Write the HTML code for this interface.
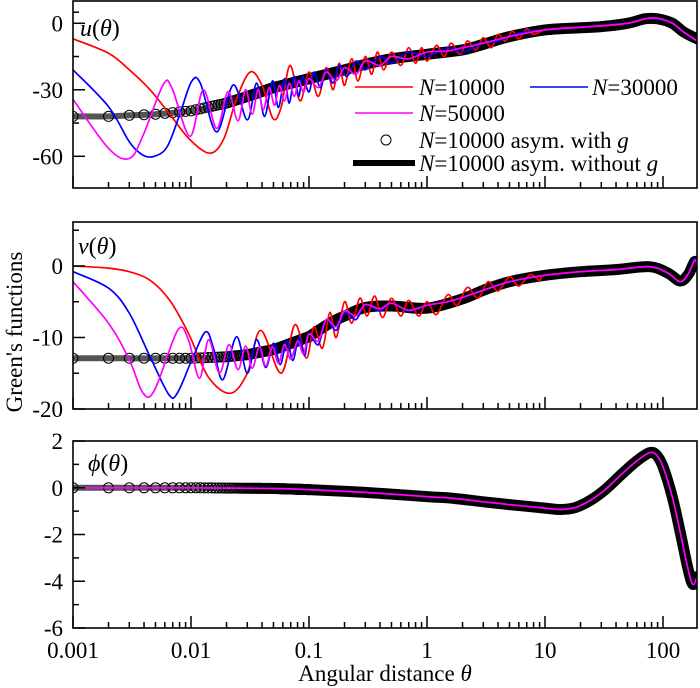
<!DOCTYPE html>
<html><head><meta charset="utf-8"><style>
html,body{margin:0;padding:0;background:#fff;}
svg{display:block;}
svg text{font-family:"Liberation Serif","Times New Roman",serif;}
</style></head><body>
<svg id="chart" width="700" height="688" viewBox="0 0 700 688" xmlns="http://www.w3.org/2000/svg" font-family="Liberation Serif, serif"></svg>
<script>
// ---------- data ----------
const xTickLabels = ["0.001","0.01","0.1","1","10","100"];
const xTickValues = [0.001,0.01,0.1,1,10,100];

// Panel u
const uAsymTheta = [0.001,0.002,0.003,0.005,0.01,0.02,0.03,0.05,0.1,0.2,0.3,0.5,1,2,3,5,10,20,30,50,70,90,120,150,194];
const uAsymVal   = [-42,-42,-41.5,-41,-39.5,-36,-33,-29,-25,-21,-18.5,-16,-14,-12,-9.5,-6,-3,-2,-1.5,0,2,2,0,-4,-7];
const uN10Theta = [0.001,0.002,0.003,0.0045,0.0066,0.0098,0.0145,0.019,0.024,0.0316,0.04,0.0495,0.058,0.069,0.084,0.1,0.12,0.14,0.16,0.18,0.2,0.23,0.26,0.3,0.34,0.38,0.43,0.5,0.6,0.7,0.8,0.9,1,1.2,1.4,1.6,1.9,2.2,2.6,3,3.5,4,4.6,5.3,6,7,8,10,15,20,30,50,70,90,120,150,194];
const uN10Val   = [-7,-13.5,-21,-30,-41,-52.5,-58.6,-52,-35,-22,-28,-43,-38,-19,-35,-22,-33,-20,-30,-18,-28,-16,-26,-15,-23,-13,-21,-13,-19,-11,-18,-11,-17,-10,-15,-9,-14,-8,-12,-6.5,-11,-5,-8,-3.5,-7,-2.5,-5,-3,-2,-1.7,-1.3,0,2,2,0,-4,-8];
const uN30Theta = [0.001,0.002,0.003,0.0039,0.0049,0.0063,0.0081,0.0101,0.012,0.0165,0.0228,0.03,0.036,0.042,0.049,0.055,0.062,0.068,0.075,0.082,0.088,0.1,0.11,0.125,0.14,0.16,0.18,0.21,0.25,0.3,0.4,0.5,0.7,1,1.5,2,3,4,6,10,20,50,70,90,120,150,194];
const uN30Val   = [-21,-37.6,-53.4,-59.4,-60,-55.6,-40.5,-26.3,-27,-49,-27.8,-43.6,-27,-42,-26,-38,-25,-36,-24,-33,-24,-31,-22,-29,-21,-27,-19,-24,-17,-21,-15,-18,-13,-15,-11,-13,-9,-8,-4.5,-3,-1.8,0,2,2,0,-4,-8];
const uN50Theta = [0.001,0.002,0.003,0.0039,0.0058,0.0069,0.0098,0.0127,0.0165,0.0206,0.025,0.029,0.033,0.037,0.041,0.046,0.051,0.056,0.062,0.068,0.075,0.082,0.09,0.1,0.12,0.14,0.17,0.2,0.25,0.3,0.4,0.5,0.7,1,1.5,2,3,5,10,20,50,70,90,120,150,194];
const uN50Val   = [-34.3,-56.4,-61,-51,-27.8,-29.3,-51,-30,-47.4,-30.8,-44,-30,-41,-30,-39,-29,-37,-28,-35,-27,-33,-26,-31,-25,-29,-22,-26,-20,-23,-17,-19,-15,-16,-13,-12.5,-11,-9,-6,-3,-1.8,0,2,2.3,0,-4,-8];

// Panel v
const vAsymTheta = [0.001,0.01,0.02,0.03,0.05,0.1,0.15,0.2,0.3,0.5,1,2,3,5,10,20,40,77,110,140,165,185,194];
const vAsymVal   = [-12.9,-12.9,-12.7,-12.4,-11.7,-9.9,-8,-7,-5.8,-5.6,-5.9,-4.6,-3.4,-2.2,-1.3,-0.8,-0.5,-0.1,-1,-2.1,-1.1,0.6,0.2];
const vN10Theta = [0.001,0.002,0.003,0.0045,0.0066,0.0095,0.014,0.0215,0.03,0.039,0.058,0.076,0.095,0.11,0.13,0.15,0.17,0.2,0.23,0.27,0.31,0.36,0.42,0.5,0.6,0.7,0.85,1,1.2,1.5,1.8,2.2,2.7,3.3,4,5,6,7.5,9,10,20,40,77,110,140,165,185,194];
const vN10Val   = [0,-0.3,-0.8,-2,-4.8,-9.4,-15.5,-17.8,-15,-9,-15,-8.2,-12.9,-8.5,-11.5,-6.5,-10,-5,-8,-4.5,-7,-4.2,-7.2,-4.5,-7,-4.8,-7,-5,-6.8,-4,-5.5,-3,-4.5,-2.2,-3.5,-1.5,-2.8,-1.2,-2,-1.3,-0.8,-0.5,-0.1,-1,-2.2,-1,0.9,0.2];
const vN30Theta = [0.001,0.002,0.003,0.0045,0.0065,0.0077,0.0102,0.0133,0.0155,0.0186,0.0243,0.03,0.036,0.043,0.05,0.057,0.065,0.073,0.082,0.092,0.1,0.12,0.14,0.17,0.2,0.25,0.3,0.4,0.5,0.7,1,1.5,2,3,5,10,20,40,77,110,140,165,185,194];
const vN30Val   = [-0.8,-3.1,-6.6,-12.7,-18,-17.7,-13.1,-9.2,-11.5,-15.9,-9.9,-15,-10.3,-14.2,-10.8,-13.8,-10.5,-13.2,-10,-12.5,-9.5,-11,-7.5,-9,-6.5,-7.5,-5.4,-6.3,-5.2,-6.3,-5.5,-5,-4.4,-3.4,-2.2,-1.3,-0.8,-0.5,-0.1,-1,-2.2,-1,1,0.2];
const vN50Theta = [0.001,0.002,0.003,0.0039,0.0049,0.0077,0.0095,0.0118,0.0141,0.0174,0.021,0.025,0.029,0.033,0.038,0.043,0.049,0.055,0.062,0.07,0.08,0.09,0.1,0.12,0.14,0.17,0.2,0.25,0.3,0.4,0.5,0.7,1,1.5,2,3,5,10,20,40,77,110,140,165,185,194];
const vN50Val   = [-2.2,-8,-13.1,-17.7,-17.4,-9,-10.3,-15.7,-10.3,-15,-11,-14.5,-11.2,-14.3,-11.3,-14,-11.3,-13.6,-11,-13,-10.5,-12.3,-9.5,-10.5,-7.5,-8.5,-6.3,-7,-5.4,-6,-5.2,-6.2,-5.5,-5,-4.4,-3.4,-2.2,-1.3,-0.8,-0.5,-0.1,-1,-2.2,-1,0.8,0.2];

// Panel phi (all series coincide)
const pAsymTheta = [0.001,0.01,0.05,0.1,0.3,1,1.57,3,5,10,13.5,18,24,32,44,60,77,88,100,120,140,160,175,185,194];
const pAsymVal   = [0,0,-0.03,-0.08,-0.2,-0.38,-0.44,-0.6,-0.72,-0.87,-0.93,-0.85,-0.55,-0.1,0.55,1.15,1.5,1.4,0.9,-0.4,-1.9,-3.3,-4.05,-4.1,-3.8];

const uTicks = [0,-30,-60], uMinor=[-15,-45,-75,5];
const vTicks = [0,-10,-20], vMinor=[5,-5,-15];
const pTicks = [2,0,-2,-4,-6], pMinor=[1,-1,-3,-5];

// ---------- helpers ----------
const NS="http://www.w3.org/2000/svg";
const FONT='Liberation Serif, Times New Roman, serif';
const svg=document.getElementById('chart');
const L=73,R=697,DEC=118;
function X(t){return L+(Math.log10(t)+3)*DEC;}
function mk(tag,attrs,parent){const e=document.createElementNS(NS,tag);for(const k in attrs)e.setAttribute(k,attrs[k]);if(tag==='text')e.setAttribute('font-family',FONT);(parent||svg).appendChild(e);return e;}
function interp(th,vals,t){const lt=Math.log10(t);for(let i=0;i<th.length-1;i++){const a=Math.log10(th[i]),b=Math.log10(th[i+1]);if(lt>=a&&lt<=b){return vals[i]+(vals[i+1]-vals[i])*(lt-a)/(b-a);}}return vals[vals.length-1];}
function smooth(pts){
  if(pts.length<2)return '';
  let d='M'+pts[0][0].toFixed(1)+','+pts[0][1].toFixed(1);
  for(let i=0;i<pts.length-1;i++){
    const p0=pts[i-1]||pts[i],p1=pts[i],p2=pts[i+1],p3=pts[i+2]||pts[i+1];
    const c1=[p1[0]+(p2[0]-p0[0])/6,p1[1]+(p2[1]-p0[1])/6];
    const c2=[p2[0]-(p3[0]-p1[0])/6,p2[1]-(p3[1]-p1[1])/6];
    d+='C'+c1[0].toFixed(1)+','+c1[1].toFixed(1)+' '+c2[0].toFixed(1)+','+c2[1].toFixed(1)+' '+p2[0].toFixed(1)+','+p2[1].toFixed(1);
  }
  return d;
}

const panels=[
 {id:'u',top:1,bottom:188,vmin:-74.3,vmax:10.05,ticks:uTicks,minor:uMinor,label:'u',lx:80,ly:36,
  asT:uAsymTheta,asV:uAsymVal,series:[[uN10Theta,uN10Val,'#ff0000','n10000'],[uN30Theta,uN30Val,'#0000ff','n30000'],[uN50Theta,uN50Val,'#ff00ff','n50000']]},
 {id:'v',top:222,bottom:409,vmin:-20,vmax:6.15,ticks:vTicks,minor:vMinor,label:'v',lx:78,ly:254,
  asT:vAsymTheta,asV:vAsymVal,series:[[vN10Theta,vN10Val,'#ff0000','n10000'],[vN30Theta,vN30Val,'#0000ff','n30000'],[vN50Theta,vN50Val,'#ff00ff','n50000']]},
 {id:'phi',top:441,bottom:628,vmin:-6,vmax:2,ticks:pTicks,minor:pMinor,label:'ϕ',lx:88,ly:471,
  asT:pAsymTheta,asV:pAsymVal,series:[[pAsymTheta,pAsymVal,'#ff00ff','n50000']]}
];

panels.forEach((p,pi)=>{
  const Y=v=>p.bottom-(v-p.vmin)/(p.vmax-p.vmin)*(p.bottom-p.top);
  const g=mk('g',{});
  
  
  const cp=mk('clipPath',{id:'clip'+pi},g);
  mk('rect',{x:L,y:p.top,width:R-L,height:p.bottom-p.top},cp);
  const plot=mk('g',{'clip-path':'url(#clip'+pi+')'},g);
  const path=(th,vals,lo,hi)=>{const pts=[];th.forEach((t,i)=>{if(t<lo||t>hi)return;pts.push([X(t),Y(vals[i])]);});return smooth(pts);};
  const a1=mk('path',{d:path(p.asT,p.asV,0.0005,0.1),fill:'none',stroke:'#555','stroke-width':6},plot);
  
  
  const a2=mk('path',{d:path(p.asT,p.asV,0.1,1000),fill:'none',stroke:'#000','stroke-width':11,'stroke-linejoin':'round','stroke-linecap':'round'},plot);
  
  
  const cg=mk('g',{},plot);
  
  
  for(let k=1;k<=100;k++){const t=k*0.001;
    const c=mk('circle',{cx:X(t).toFixed(1),cy:Y(interp(p.asT,p.asV,t)).toFixed(1),r:5,fill:'none',stroke:'#000','stroke-width':1},cg);
    
    
  }
  p.series.forEach(s=>{
    const e=mk('path',{d:path(s[0],s[1],0,1000),fill:'none',stroke:s[2],'stroke-width':1.7,'stroke-linejoin':'round'},plot);
    
    
  });
  const fr=mk('rect',{x:L,y:p.top,width:R-L,height:p.bottom-p.top,fill:'none',stroke:'#000','stroke-width':1.6},g);
  
  
  p.ticks.forEach(v=>{const y=Y(v);
    mk('line',{x1:L,x2:L+12,y1:y,y2:y,stroke:'#000','stroke-width':1.5},g);
    const t=mk('text',{x:63,y:y+8,'text-anchor':'end','font-size':23},g);t.textContent=String(v);
    
    
  });
  p.minor.forEach(v=>{const y=Y(v);if(y<p.top+1||y>p.bottom-1)return;mk('line',{x1:L,x2:L+6,y1:y,y2:y,stroke:'#000','stroke-width':1.5},g);});
  for(let d=-3;d<=2;d++){for(let m=1;m<=9;m++){const t=m*Math.pow(10,d);const x=X(t);if(x>R-1)continue;
    mk('line',{x1:x,x2:x,y1:p.bottom,y2:p.bottom-(m===1?12:6),stroke:'#000','stroke-width':1.5},g);}}
  const lb=mk('text',{x:p.lx,y:p.ly,'font-size':24},g);
  
  
  lb.innerHTML='<tspan font-style="italic">'+p.label+'</tspan>(<tspan font-style="italic">θ</tspan>)';
});

xTickValues.forEach((v,i)=>{const t=mk('text',{x:X(v),y:658,'text-anchor':'middle','font-size':23});t.textContent=xTickLabels[i];
  
  });
const xt=mk('text',{x:385,y:681,'text-anchor':'middle','font-size':23});


xt.innerHTML='Angular distance <tspan font-style="italic">θ</tspan>';
const yt=mk('text',{x:0,y:0,'text-anchor':'middle','font-size':23,transform:'translate(22,332) rotate(-90)'});


yt.textContent="Green's functions";

const lg=mk('g',{});


function ltext(x,y,html,name){const t=mk('text',{x:x,y:y,'font-size':23},lg);t.innerHTML=html;
  
  }
const N='<tspan font-style="italic">N</tspan>';
mk('line',{x1:355,x2:413,y1:87,y2:87,stroke:'#ff0000','stroke-width':1.6},lg);
ltext(419,95,N+'=10000','legend-entry-n10000');
mk('line',{x1:530,x2:588,y1:87,y2:87,stroke:'#0000ff','stroke-width':1.6},lg);
ltext(592,95,N+'=30000','legend-entry-n30000');
mk('line',{x1:355,x2:413,y1:113,y2:113,stroke:'#ff00ff','stroke-width':1.6},lg);
ltext(419,121,N+'=50000','legend-entry-n50000');
mk('circle',{cx:386,cy:140,r:5,fill:'none',stroke:'#000','stroke-width':1},lg);
ltext(419,148,N+'=10000 asym. with <tspan font-style="italic">g</tspan>','legend-entry-asym-with-g');
mk('line',{x1:353,x2:415,y1:163,y2:163,stroke:'#000','stroke-width':6},lg);
ltext(419,171,N+'=10000 asym. without <tspan font-style="italic">g</tspan>','legend-entry-asym-without-g');
</script>
</body></html>
